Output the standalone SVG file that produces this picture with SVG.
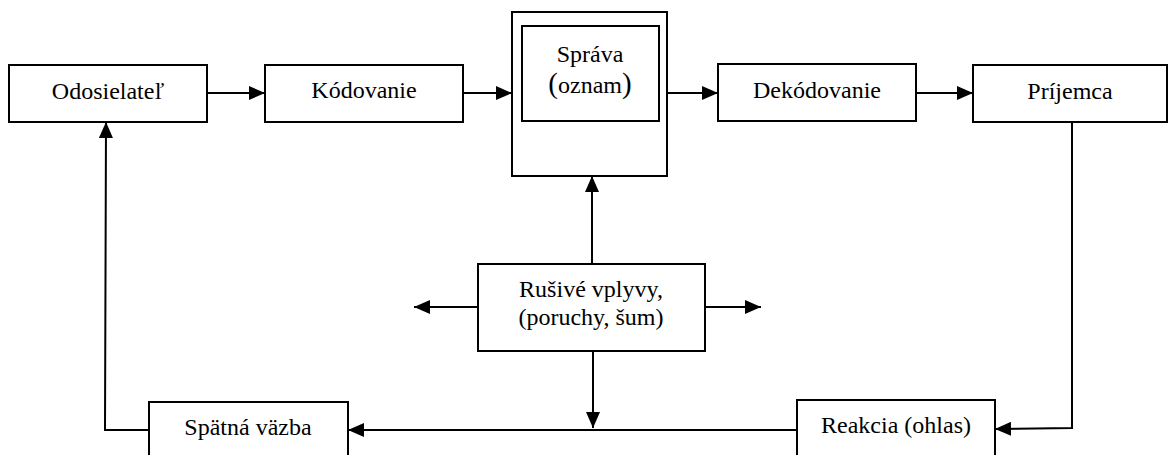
<svg xmlns="http://www.w3.org/2000/svg" width="1169" height="455" viewBox="0 0 1169 455">
<style>
.b{fill:#fff;stroke:#000;stroke-width:2}
.t{font-family:'Liberation Serif','Times New Roman',serif;font-size:24px;fill:#000;text-anchor:middle}
.p{font-size:29px}
.c{fill:none;stroke:#000;stroke-width:2;marker-end:url(#ah)}
</style>
<defs>
<marker id="ah" viewBox="0 0 16 14" refX="16" refY="7" markerWidth="16" markerHeight="14" markerUnits="userSpaceOnUse" orient="auto">
<path d="M0,0 L16,7 L0,14 Z" fill="#000"/>
</marker>
</defs>
<rect width="1169" height="455" fill="#fff"/>
<g id="connectors">
<line class="c" x1="207" y1="93" x2="265" y2="93"/>
<line class="c" x1="463" y1="93" x2="512" y2="93"/>
<line class="c" x1="667" y1="93" x2="718" y2="93"/>
<line class="c" x1="916" y1="93" x2="973" y2="93"/>
<polyline class="c" points="1072,122 1072,428 995,429"/>
<line class="c" x1="797" y1="430" x2="348" y2="430"/>
<polyline class="c" points="149,430 105,430 106,122"/>
<line class="c" x1="592" y1="264" x2="592" y2="176"/>
<line class="c" x1="593" y1="351" x2="593" y2="428"/>
<line class="c" x1="478" y1="307" x2="414" y2="307"/>
<line class="c" x1="705" y1="307" x2="761" y2="307"/>
</g>
<g id="odosielatel"><rect class="b" x="9" y="65" width="198" height="57"/><text class="t" x="108" y="99">Odosielateľ</text></g>
<g id="kodovanie"><rect class="b" x="265" y="65" width="198" height="57"/><text class="t" x="364" y="98">Kódovanie</text></g>
<g id="sprava"><rect class="b" x="512" y="12" width="155" height="164"/><rect class="b" x="522" y="26" width="137" height="95"/><text class="t" x="590" y="62">Správa</text><text class="t" x="590" y="93"><tspan class="p">(</tspan>oznam<tspan class="p">)</tspan></text></g>
<g id="dekodovanie"><rect class="b" x="718" y="64" width="198" height="57"/><text class="t" x="817" y="98">Dekódovanie</text></g>
<g id="prijemca"><rect class="b" x="973" y="65" width="194" height="57"/><text class="t" x="1070" y="99">Príjemca</text></g>
<g id="rusive"><rect class="b" x="478" y="264" width="227" height="87"/><text class="t" x="591" y="297">Rušivé vplyvy,</text><text class="t" x="591" y="325">(poruchy, šum)</text></g>
<g id="reakcia"><rect class="b" x="797" y="400" width="198" height="60"/><text class="t" x="896" y="433">Reakcia (ohlas)</text></g>
<g id="spatna"><rect class="b" x="149" y="402" width="199" height="60"/><text class="t" x="248" y="435">Spätná väzba</text></g>
</svg>
